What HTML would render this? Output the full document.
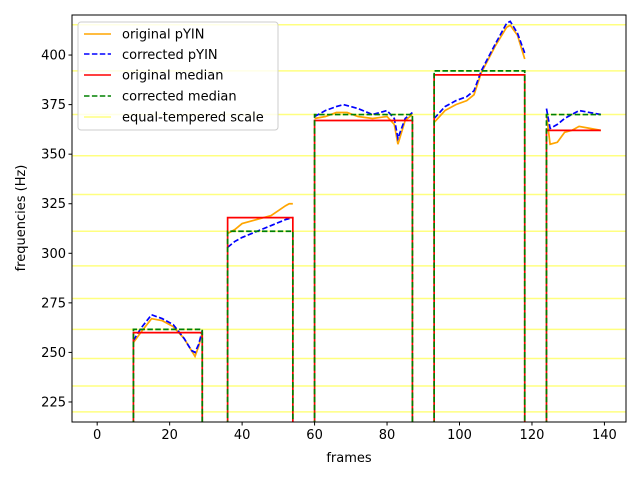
<!DOCTYPE html>
<html><head><meta charset="utf-8"><style>
html,body{margin:0;padding:0;background:#fff;width:640px;height:480px;overflow:hidden;position:relative;}
svg{display:block;font-family:"DejaVu Sans","Liberation Sans",sans-serif;}
</style></head><body>
<svg id="chart" width="640" height="480" style="position:absolute;left:0;top:0;" xmlns="http://www.w3.org/2000/svg"></svg>
<script>
const etFreqs=[220,233.08,246.94,261.63,277.18,293.66,311.13,329.63,349.23,369.99,392,415.3];
const origPyin=[
[[10,255],[12,260],[15,267],[18,266],[21,263],[24,257],[26,251],[27,248],[28,253],[29,260]],
[[36,310],[38,312],[40,315],[44,317],[48,319],[52,324],[53,325],[54,325]],
[[60,368],[63,369],[66,371],[69,371],[72,369],[76,368],[80,369],[82,365],[83,355],[85,367],[87,370]],
[[93,366],[96,372],[99,375],[102,377],[104,380],[106,391],[110,405],[113,414],[114,415],[116,410],[118,398]],
[[124,370],[125,355],[127,356],[129,361],[131,362],[133,364],[136,363],[139,362]]];
const corrPyin=[
[[10,256],[12,262],[15,269],[18,267],[21,264],[24,257],[26,251],[27,250],[28,254],[29,261]],
[[36,303],[38,306],[40,308],[44,311],[48,314],[52,317],[54,318]],
[[60,369],[63,372],[66,374],[68,375],[72,373],[76,370],[80,372],[82,368],[83,358],[85,368],[87,371]],
[[93,368],[96,374],[99,377],[102,379],[104,382],[106,392],[110,406],[113,416],[114,417],[116,411],[118,401]],
[[124,373],[125,363],[127,365],[129,368],[131,370],[133,372],[136,371],[139,370]]];
const segStarts=[10,36,60,93,124];
const segEnds=[29,54,87,118,139];
const origMedian=[260,318,367,390,362];
const corrMedian=[261.63,311.13,369.99,392,369.99];
const xTicks=[0,20,40,60,80,100,120,140];
const yTicks=[225,250,275,300,325,350,375,400];

const L=72,R=626,T=15,B=422;
const xMin=-6.95,xMax=145.95,yMin=214.9,yMax=420.2;
const sx=v=>L+(v-xMin)/(xMax-xMin)*(R-L);
const sy=v=>B-(v-yMin)/(yMax-yMin)*(B-T);
const svg=document.getElementById('chart');
const NS='http://www.w3.org/2000/svg';
function mk(tag,attrs,parent){const e=document.createElementNS(NS,tag);for(const k in attrs)e.setAttribute(k,attrs[k]);(parent||svg).appendChild(e);return e;}
const defs=mk('defs',{});const cp=mk('clipPath',{id:'c'},defs);mk('rect',{x:L,y:T,width:R-L,height:B-T},cp);
const g=mk('g',{'clip-path':'url(#c)'});


etFreqs.forEach(f=>{const l=mk('line',{x1:L,x2:R,y1:sy(f),y2:sy(f),stroke:'#ffff80','stroke-width':1.5},g);

});
function poly(pts,color,dash,name){const p=mk('polyline',{points:pts.map(q=>sx(q[0])+','+Math.min(sy(q[1]),B+4)).join(' '),fill:'none',stroke:color,'stroke-width':1.7,'stroke-dasharray':dash||'none'},g);

}
origPyin.forEach(s=>poly(s,'#ffa500','','original-pyin-line'));
corrPyin.forEach(s=>poly(s,'#0000ff','5.5,2.4','corrected-pyin-line'));
const last=segStarts.length-1;
segStarts.forEach((s,i)=>{const e=segEnds[i];const pts=[[s,0],[s,origMedian[i]],[e,origMedian[i]]];if(i<last)pts.push([e,0]);
poly(pts,'#ff0000','','original-median-line');});
segStarts.forEach((s,i)=>{const e=segEnds[i];const pts=[[s,0],[s,corrMedian[i]],[e,corrMedian[i]]];if(i<last)pts.push([e,0]);
poly(pts,'#008000','5.5,2.4','corrected-median-line');});
mk('rect',{x:L,y:T,width:R-L,height:B-T,fill:'none',stroke:'#000','stroke-width':1});
xTicks.forEach(t=>{mk('line',{x1:sx(t),x2:sx(t),y1:B,y2:B+3.5,stroke:'#000'});
const tx=mk('text',{x:sx(t),y:B+17,'font-size':13,'text-anchor':'middle'});tx.textContent=t;

});
yTicks.forEach(t=>{mk('line',{x1:L-3.5,x2:L,y1:sy(t),y2:sy(t),stroke:'#000'});
const tx=mk('text',{x:L-6,y:sy(t)+4.5,'font-size':13,'text-anchor':'end'});tx.textContent=t;

});
</script>
<svg width="640" height="480" style="position:absolute;left:0;top:0;font-family:'DejaVu Sans','Liberation Sans',sans-serif;">
<text x="349" y="462" font-size="13" text-anchor="middle">frames</text>
<text transform="translate(25,218) rotate(-90)" font-size="13" text-anchor="middle">frequencies (Hz)</text>
<g>
<rect x="78" y="22" width="200" height="108" rx="3" fill="#fff" fill-opacity="0.8" stroke="#ccc"/>
<g><line x1="84" x2="111" y1="34" y2="34" stroke="#ffa500" stroke-width="1.5"/><text x="122" y="38.5" font-size="13">original pYIN</text></g>
<g><line x1="84" x2="111" y1="54" y2="54" stroke="#0000ff" stroke-width="1.5" stroke-dasharray="5.5,2.4"/><text x="122" y="59" font-size="13">corrected pYIN</text></g>
<g><line x1="84" x2="111" y1="75" y2="75" stroke="#ff0000" stroke-width="1.5"/><text x="122" y="79.5" font-size="13">original median</text></g>
<g><line x1="84" x2="111" y1="96" y2="96" stroke="#008000" stroke-width="1.5" stroke-dasharray="5.5,2.4"/><text x="122" y="100.5" font-size="13">corrected median</text></g>
<g><line x1="84" x2="111" y1="117" y2="117" stroke="#ffff80" stroke-width="1.5"/><text x="122" y="121.5" font-size="13">equal-tempered scale</text></g>
</g>
</svg>
</body></html>
